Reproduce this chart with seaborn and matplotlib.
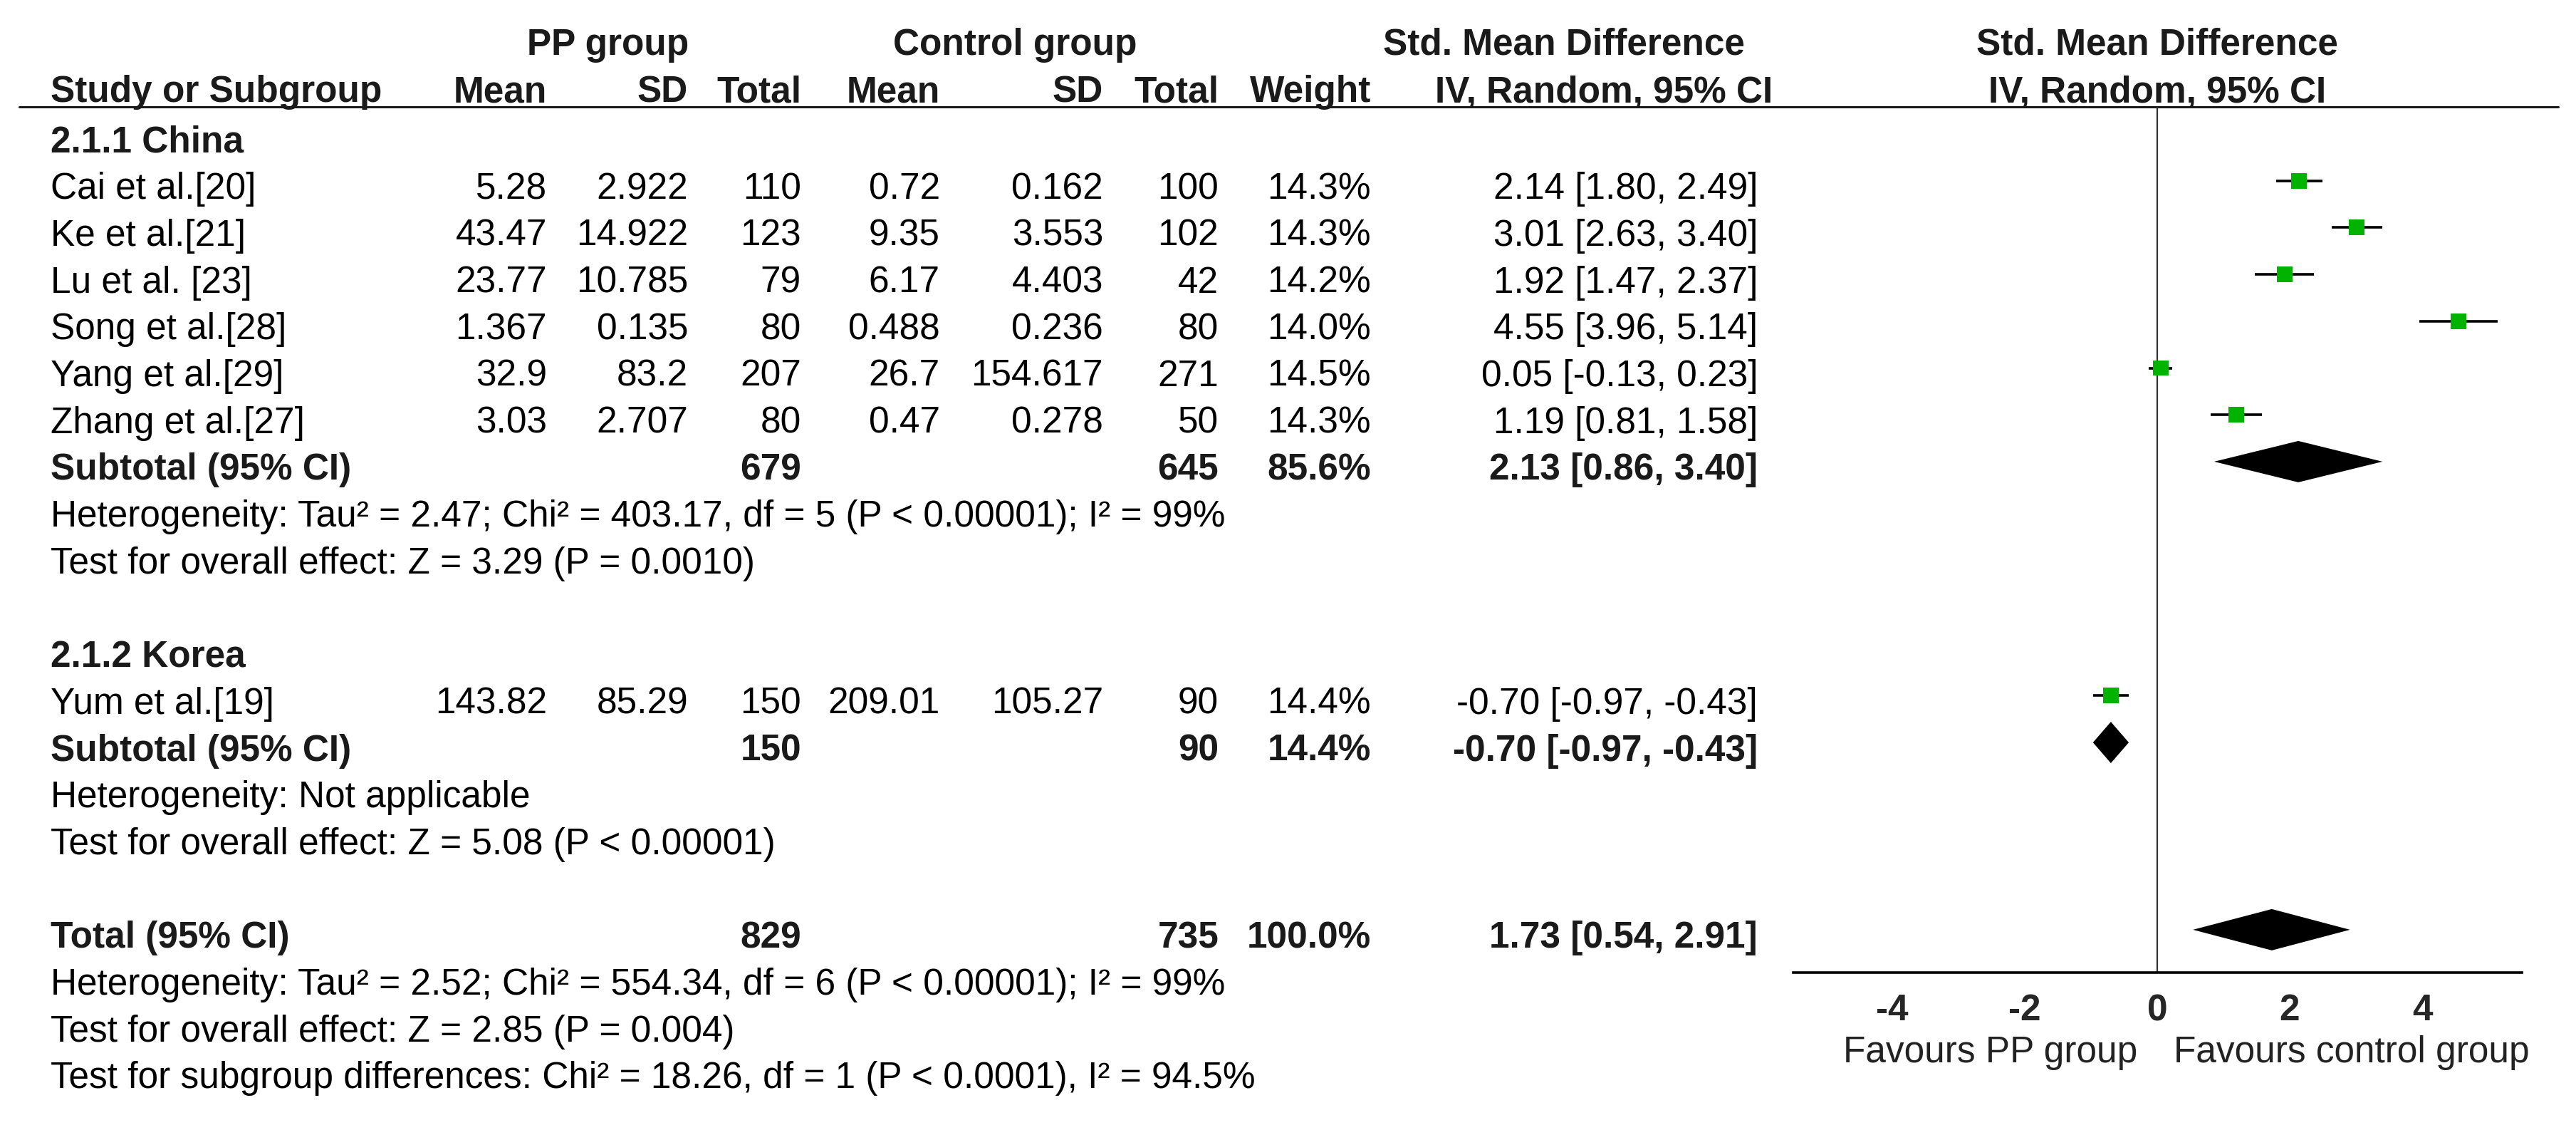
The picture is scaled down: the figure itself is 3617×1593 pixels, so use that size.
import numpy as np
import pandas as pd
import matplotlib
matplotlib.use('Agg')
import matplotlib.pyplot as plt
import seaborn as sns

# study level data
studies = ['Cai et al.[20]', 'Ke et al.[21]', 'Lu et al. [23]', 'Song et al.[28]',
           'Yang et al.[29]', 'Zhang et al.[27]', 'Yum et al.[19]']
pp_mean = ['5.28', '43.47', '23.77', '1.367', '32.9', '3.03', '143.82']
pp_sd = ['2.922', '14.922', '10.785', '0.135', '83.2', '2.707', '85.29']
pp_total = [110, 123, 79, 80, 207, 80, 150]
ctl_mean = ['0.72', '9.35', '6.17', '0.488', '26.7', '0.47', '209.01']
ctl_sd = ['0.162', '3.553', '4.403', '0.236', '154.617', '0.278', '105.27']
ctl_total = [100, 102, 42, 80, 271, 50, 90]
weight = [14.3, 14.3, 14.2, 14.0, 14.5, 14.3, 14.4]
smd = [2.14, 3.01, 1.92, 4.55, 0.05, 1.19, -0.70]
ci_low = [1.80, 2.63, 1.47, 3.96, -0.13, 0.81, -0.97]
ci_high = [2.49, 3.40, 2.37, 5.14, 0.23, 1.58, -0.43]
study_rows = [1, 2, 3, 4, 5, 6, 12]

# pooled estimates
pooled_labels = ['Subtotal (95% CI)', 'Subtotal (95% CI)', 'Total (95% CI)']
pooled_pp_total = [679, 150, 829]
pooled_ctl_total = [645, 90, 735]
pooled_weight = [85.6, 14.4, 100.0]
pooled_smd = [2.13, -0.70, 1.73]
pooled_low = [0.86, -0.97, 0.54]
pooled_high = [3.40, -0.43, 2.91]
pooled_rows = [7, 13, 17]

subgroup_titles = [(0, '2.1.1 China'), (11, '2.1.2 Korea')]
notes = [
    (8, 'Heterogeneity: Tau\u00b2 = 2.47; Chi\u00b2 = 403.17, df = 5 (P < 0.00001); I\u00b2 = 99%'),
    (9, 'Test for overall effect: Z = 3.29 (P = 0.0010)'),
    (14, 'Heterogeneity: Not applicable'),
    (15, 'Test for overall effect: Z = 5.08 (P < 0.00001)'),
    (18, 'Heterogeneity: Tau\u00b2 = 2.52; Chi\u00b2 = 554.34, df = 6 (P < 0.00001); I\u00b2 = 99%'),
    (19, 'Test for overall effect: Z = 2.85 (P = 0.004)'),
    (20, 'Test for subgroup differences: Chi\u00b2 = 18.26, df = 1 (P < 0.0001), I\u00b2 = 94.5%'),
]
xticks = [-4, -2, 0, 2, 4]

sns.set_theme(style='white')
plt.rcParams['font.family'] = ['Liberation Sans', 'DejaVu Sans']

W, H = 3617, 1593
fig = plt.figure(figsize=(W / 100, H / 100), dpi=100)
fig.patch.set_facecolor('white')

FS = 37
row0, step = 200, 65.7


def row_y(i):
    return row0 + step * i


# table area in pixel coordinates
ax = fig.add_axes([0, 0, 1, 1])
ax.set_xlim(0, W)
ax.set_ylim(H, 0)
ax.axis('off')

col_x = {'pm': 768, 'psd': 966, 'pt': 1125, 'cm': 1320, 'csd': 1549,
         'ct': 1711, 'w': 1925, 'ci': 2468}
left_x = 71
hdr_y1, hdr_y2, line_y = 63, 130, 150

bold = dict(fontsize=FS, fontweight='bold', color='#1a1a1a', va='center')
reg = dict(fontsize=FS, color='black', va='center')

ax.text(854, hdr_y1, 'PP group', ha='center', **bold)
ax.text(1425, hdr_y1, 'Control group', ha='center', **bold)
ax.text(2450, hdr_y1, 'Std. Mean Difference', ha='right', **bold)
ax.text(3029, hdr_y1, 'Std. Mean Difference', ha='center', **bold)
ax.text(left_x, hdr_y2, 'Study or Subgroup', ha='left', **bold)
for key, lab in [('pm', 'Mean'), ('psd', 'SD'), ('pt', 'Total'), ('cm', 'Mean'),
                 ('csd', 'SD'), ('ct', 'Total'), ('w', 'Weight')]:
    ax.text(col_x[key], hdr_y2, lab, ha='right', **bold)
ax.text(2489, hdr_y2, 'IV, Random, 95% CI', ha='right', **bold)
ax.text(3029, hdr_y2, 'IV, Random, 95% CI', ha='center', **bold)
ax.plot([27, 3592], [line_y, line_y], color='#1a1a1a', lw=2.2)

for r, t in subgroup_titles:
    ax.text(left_x, row_y(r), t, ha='left', **bold)

for i, name in enumerate(studies):
    y = row_y(study_rows[i])
    ax.text(left_x, y, name, ha='left', **reg)
    ax.text(col_x['pm'], y, pp_mean[i], ha='right', **reg)
    ax.text(col_x['psd'], y, pp_sd[i], ha='right', **reg)
    ax.text(col_x['pt'], y, str(pp_total[i]), ha='right', **reg)
    ax.text(col_x['cm'], y, ctl_mean[i], ha='right', **reg)
    ax.text(col_x['csd'], y, ctl_sd[i], ha='right', **reg)
    ax.text(col_x['ct'], y, str(ctl_total[i]), ha='right', **reg)
    ax.text(col_x['w'], y, f'{weight[i]:.1f}%', ha='right', **reg)
    ax.text(col_x['ci'], y, f'{smd[i]:.2f} [{ci_low[i]:.2f}, {ci_high[i]:.2f}]', ha='right', **reg)

for i, lab in enumerate(pooled_labels):
    y = row_y(pooled_rows[i])
    ax.text(left_x, y, lab, ha='left', **bold)
    ax.text(col_x['pt'], y, str(pooled_pp_total[i]), ha='right', **bold)
    ax.text(col_x['ct'], y, str(pooled_ctl_total[i]), ha='right', **bold)
    ax.text(col_x['w'], y, f'{pooled_weight[i]:.1f}%', ha='right', **bold)
    ax.text(col_x['ci'], y, f'{pooled_smd[i]:.2f} [{pooled_low[i]:.2f}, {pooled_high[i]:.2f}]',
            ha='right', **bold)

for r, t in notes:
    ax.text(left_x, row_y(r), t, ha='left', **reg)

# forest plot panel
x0_px, unit_px = 3029, 93
xmin, xmax = -5.5, 5.5
axis_y = 1365
fl = (x0_px + xmin * unit_px) / W
fw = (xmax - xmin) * unit_px / W
fb = (H - axis_y) / H
fh = (axis_y - line_y) / H
fax = fig.add_axes([fl, fb, fw, fh])
fax.set_facecolor('none')
fax.set_xlim(xmin, xmax)
fax.set_ylim(axis_y, line_y)

mark_off = 12
df = pd.DataFrame({'smd': smd, 'lo': ci_low, 'hi': ci_high,
                   'y': [row_y(r) - mark_off for r in study_rows]})
fax.hlines(df['y'], df['lo'], df['hi'], color='black', lw=2.6, zorder=2)
sns.scatterplot(data=df, x='smd', y='y', marker='s', s=250, color='#00b300',
                edgecolor='none', linewidth=0, ax=fax, zorder=3, legend=False)

half_h = 29
for i in range(len(pooled_smd)):
    yc = row_y(pooled_rows[i]) - mark_off
    fax.fill([pooled_low[i], pooled_smd[i], pooled_high[i], pooled_smd[i]],
             [yc, yc - half_h, yc, yc + half_h], color='black', lw=0, zorder=3)

fax.axvline(0, color='#333333', lw=1.6, zorder=1)
for s in ['top', 'left', 'right']:
    fax.spines[s].set_visible(False)
fax.spines['bottom'].set_linewidth(2.6)
fax.spines['bottom'].set_color('black')
fax.set_yticks([])
fax.set_xticks(xticks)
fax.set_xticklabels([str(t) for t in xticks], fontweight='bold', fontsize=FS)
fax.tick_params(axis='x', direction='in', length=12, width=2.6, color='black', pad=21)
fax.set_xlabel('')
fax.set_ylabel('')

ax.text(3001, 1478, 'Favours PP group', ha='right', fontsize=FS, color='#222222', va='center')
ax.text(3052, 1478, 'Favours control group', ha='left', fontsize=FS, color='#222222', va='center')

fig.savefig('out.png', dpi=100, facecolor='white')
